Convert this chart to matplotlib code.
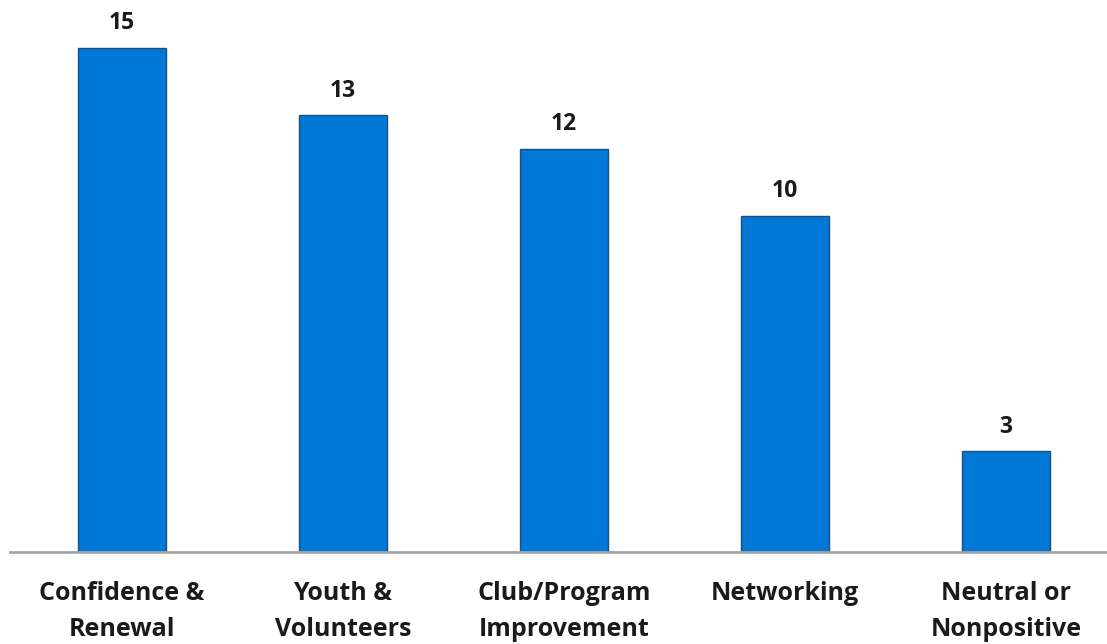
import matplotlib
matplotlib.use("Agg")
import matplotlib.pyplot as plt

categories = ["Confidence &\nRenewal", "Youth &\nVolunteers", "Club/Program\nImprovement",
              "Networking", "Neutral or\nNonpositive"]
values = [15, 13, 12, 10, 3]

plt.rcParams['font.family'] = ['Open Sans', 'DejaVu Sans']

fig = plt.figure(figsize=(11.07, 6.44), dpi=100)
ax = fig.add_axes([10/1107, 0.1429, 1097/1107, 0.8348])
x = list(range(len(values)))
bars = ax.bar(x, values, width=0.4, color="#0078D7", edgecolor="#1F4E79", linewidth=1.0, zorder=2)
ax.set_xlim(-0.507, 4.457)
ax.set_ylim(0, 16)
for xi, v in zip(x, values):
    ax.annotate(str(v), (xi, v), xytext=(0, 9), textcoords="offset points",
                ha="center", va="bottom", fontsize=16.5, fontweight="bold", color="#1a1a1a")
for s in ["top", "right", "left"]:
    ax.spines[s].set_visible(False)
ax.spines["bottom"].set_color("#A6A6A6")
ax.spines["bottom"].set_linewidth(2)
ax.set_yticks([])
ax.set_xticks(x)
ax.set_xticklabels(categories, fontsize=18, fontweight="bold", color="#1a1a1a", linespacing=1.55)
ax.tick_params(axis="x", length=0, pad=21)
fig.savefig("out.png", dpi=100)
